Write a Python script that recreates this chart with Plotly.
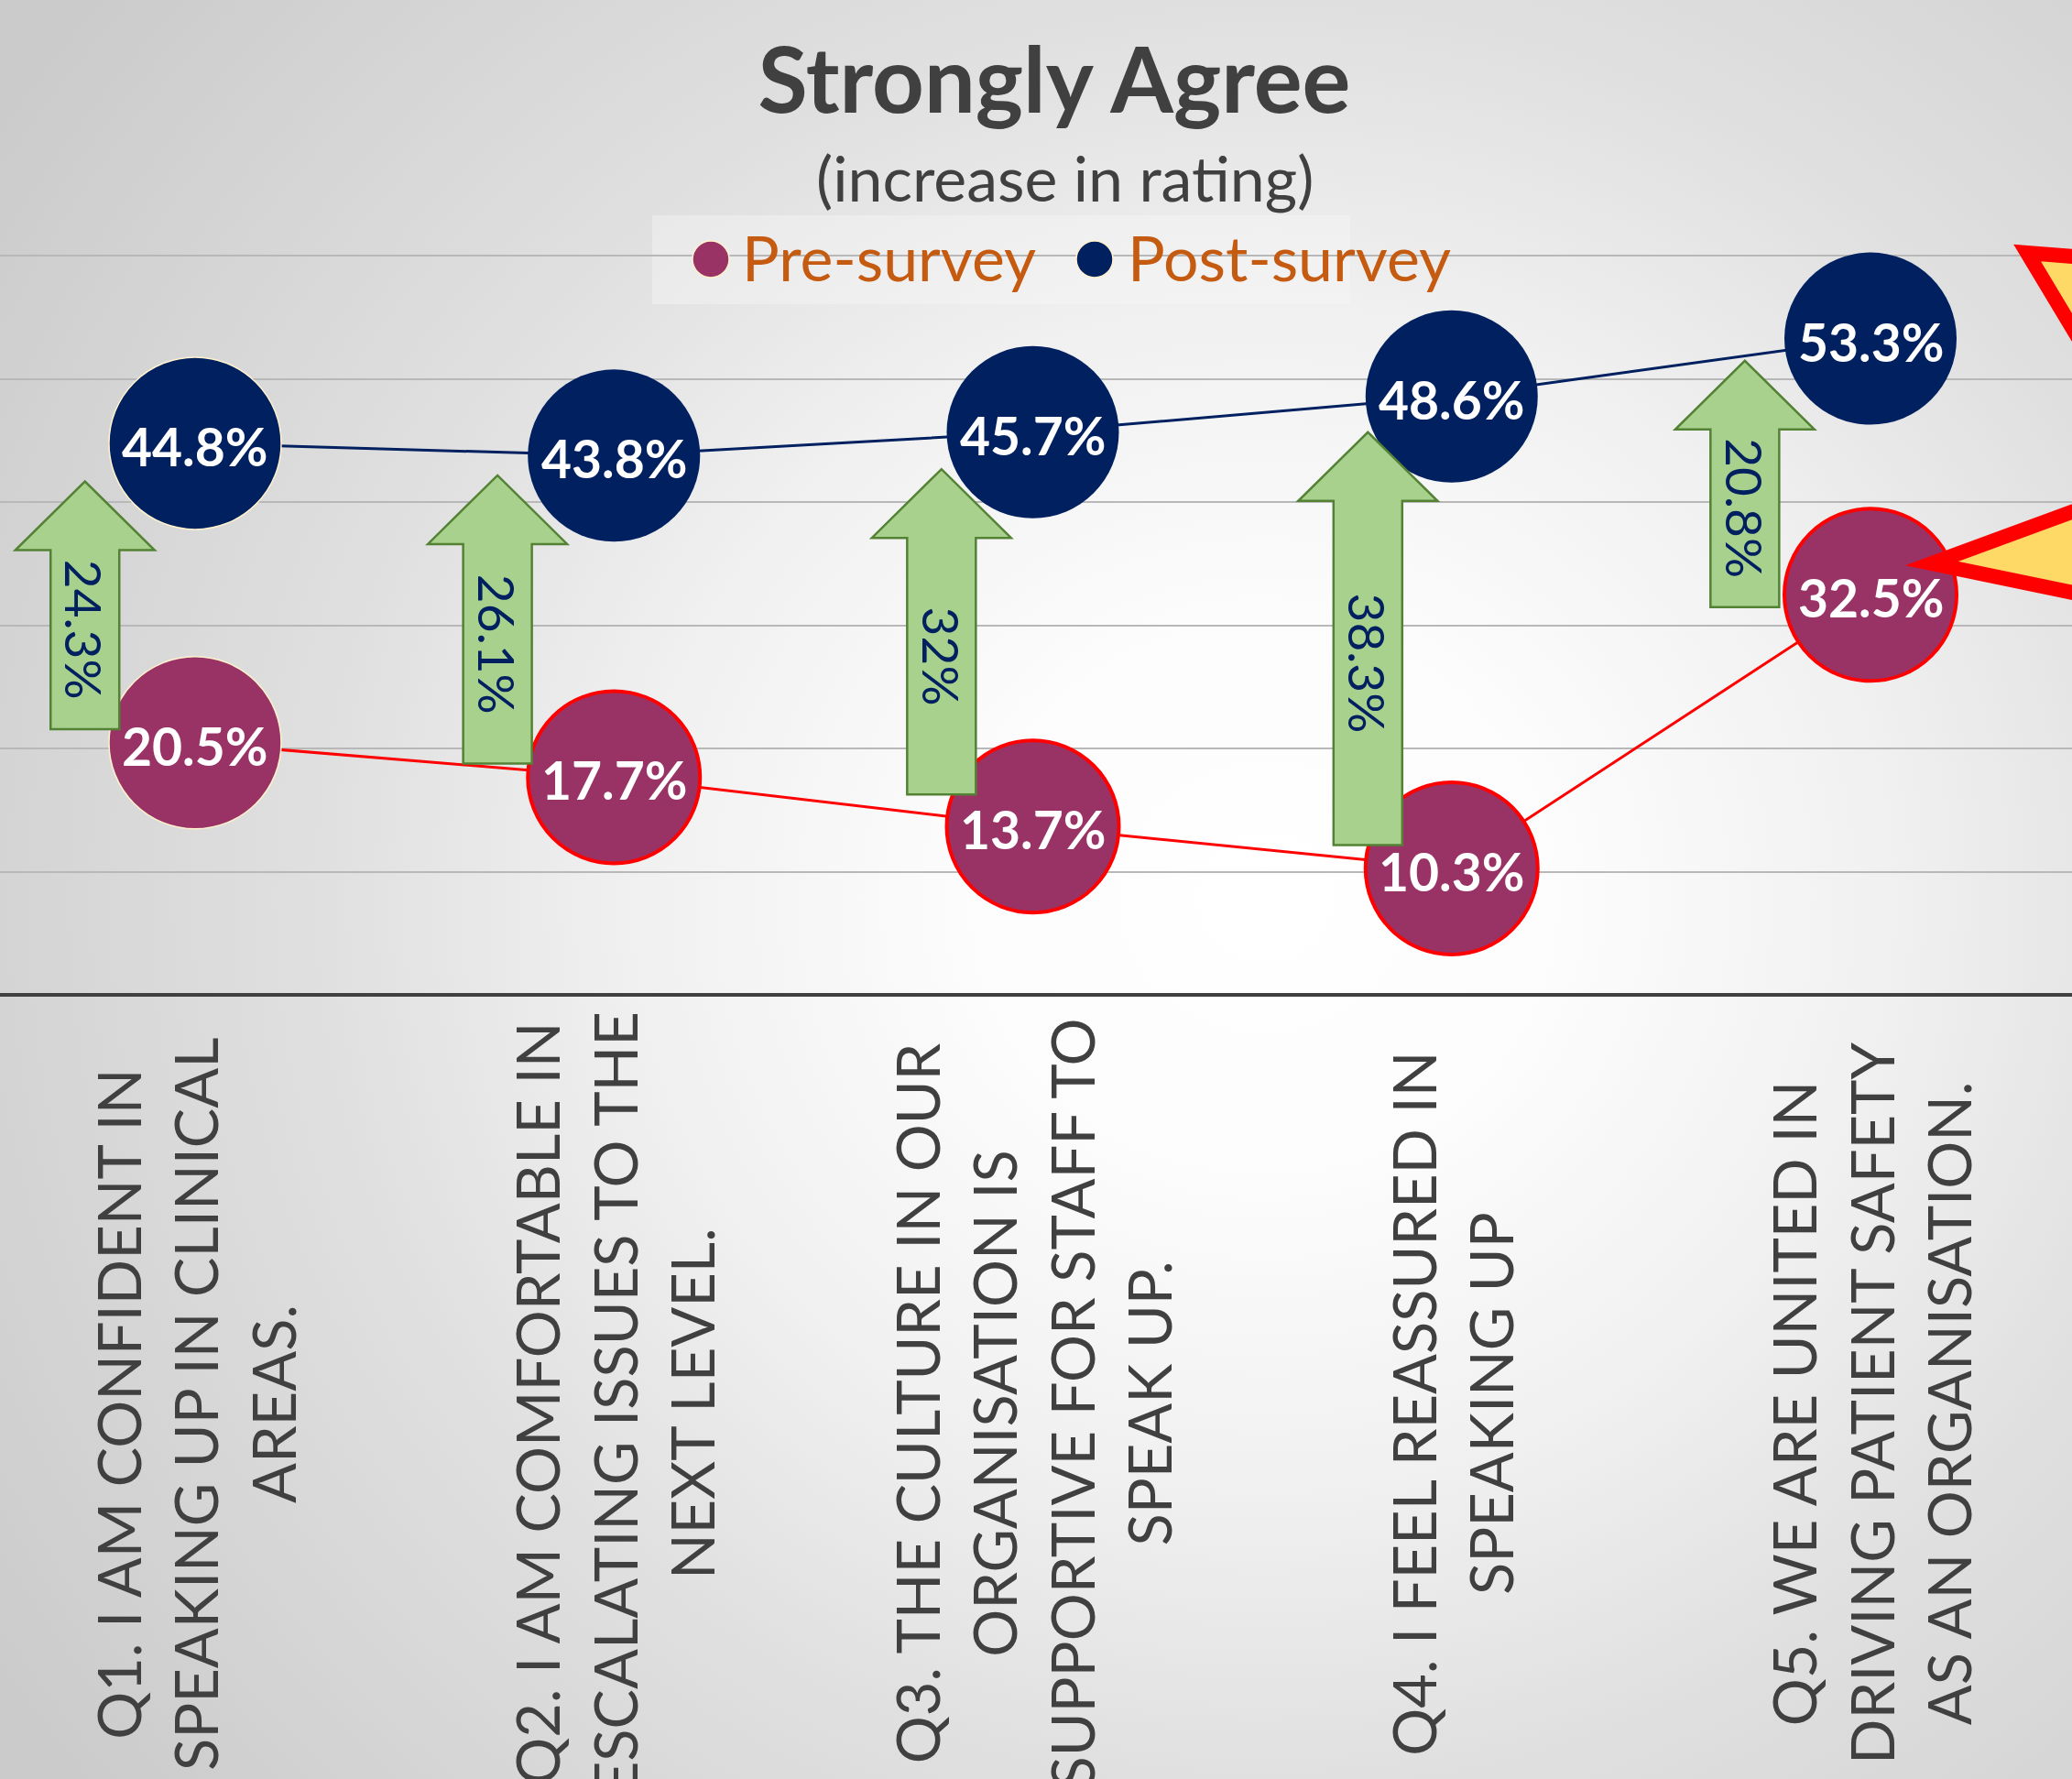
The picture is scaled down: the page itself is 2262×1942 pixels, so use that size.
import base64
import plotly.graph_objects as go

# ---------------- data ----------------
categories = [
    "Q1. I AM CONFIDENT IN<br>SPEAKING UP IN CLINICAL<br>AREAS.",
    "Q2. I AM COMFORTABLE IN<br>ESCALATING ISSUES TO THE<br>NEXT LEVEL.",
    "Q3. THE CULTURE IN OUR<br>ORGANISATION IS<br>SUPPORTIVE FOR STAFF TO<br>SPEAK UP.",
    "Q4. I FEEL REASSURED IN<br>SPEAKING UP",
    "Q5. WE ARE UNITED IN<br>DRIVING PATIENT SAFETY<br>AS AN ORGANISATION.",
]
pre_survey = [20.5, 17.7, 13.7, 10.3, 32.5]
post_survey = [44.8, 43.8, 45.7, 48.6, 53.3]
series_names = ["Pre-survey", "Post-survey"]
title_text = "Strongly Agree"
subtitle_text = "(increase in rating)"
grid_values = [10, 20, 30, 40, 50, 60]

# ---------------- styling / layout constants ----------------
W, H = 2262, 1942
X_RANGE = [-0.4658, 4.4811]
Y_RANGE = [-63.61, 80.78]
PX_PER_X = W / (X_RANGE[1] - X_RANGE[0])
PX_PER_Y = H / (Y_RANGE[1] - Y_RANGE[0])

PRE_COLOR = "#993366"
POST_COLOR = "#002060"
CREAM = "#FFF2CC"
TEXT_GREY = "#404040"
LEGEND_ORANGE = "#C55A11"
ARROW_FILL = "#A9D18E"
ARROW_LINE = "#548235"

# manual placement of the block arrows (relative to each category / value)
ARROW_DX = [-0.263, -0.278, -0.218, -0.2, -0.30]
ARROW_GAP_BOTTOM = [1.1, 1.1, 2.6, 1.9, -1.0]
ARROW_GAP_TOP = [3.1, 1.6, 3.0, 2.9, 1.8]
ARROW_HEAD_PX = 75
ARROW_HEAD_HALF_PX = 76
ARROW_SHAFT_HALF_PX = 37.5

LABEL_CENTER_PX = 1532  # vertical centre of the rotated category labels


def px(x):
    return x / W


def py(y):
    return 1 - y / H


x_pos = list(range(len(categories)))

# ---------------- background gradient (svg) ----------------
svg = (
    f'<svg xmlns="http://www.w3.org/2000/svg" width="{W}" height="{H}" viewBox="0 0 {W} {H}">'
    '<defs><radialGradient id="g" cx="0" cy="0" r="1" gradientUnits="userSpaceOnUse" '
    'gradientTransform="translate(1380 980) scale(1650 1550)">'
    '<stop offset="0" stop-color="#ffffff"/>'
    '<stop offset="0.2" stop-color="#fcfcfc"/>'
    '<stop offset="0.42" stop-color="#f0f0f0"/>'
    '<stop offset="0.62" stop-color="#e0e0e0"/>'
    '<stop offset="1" stop-color="#cbcbcb"/>'
    '</radialGradient></defs>'
    f'<rect x="0" y="0" width="{W}" height="{H}" fill="url(#g)"/></svg>'
)
bg_src = "data:image/svg+xml;base64," + base64.b64encode(svg.encode()).decode()

fig = go.Figure()

# Pre-survey series
fig.add_trace(go.Scatter(
    x=x_pos, y=pre_survey, name=series_names[0],
    mode="lines+markers",
    line=dict(color="#FF0000", width=3),
    marker=dict(size=188, color=PRE_COLOR,
                line=dict(color=[CREAM] + ["#FF0000"] * 4, width=[1.5] + [4] * 4)),
    showlegend=False, cliponaxis=False, hoverinfo="skip",
))

# Post-survey series
fig.add_trace(go.Scatter(
    x=x_pos, y=post_survey, name=series_names[1],
    mode="lines+markers",
    line=dict(color=POST_COLOR, width=3),
    marker=dict(size=188, color=POST_COLOR,
                line=dict(color=[CREAM] + [POST_COLOR] * 4, width=[1.5] + [0] * 4)),
    showlegend=False, cliponaxis=False, hoverinfo="skip",
))

shapes = []
annotations = []

# data labels centred in the circles
for series in (pre_survey, post_survey):
    for i, v in enumerate(series):
        annotations.append(dict(
            x=x_pos[i], y=v, xref="x", yref="y", text=f"{v:.1f}%",
            showarrow=False, xanchor="center", yanchor="middle", yshift=-3,
            font=dict(family="Lato", size=57, color="white", weight="bold"),
        ))

# lighter legend box
shapes.append(dict(type="rect", xref="paper", yref="paper",
                   x0=px(712), x1=px(1474), y0=py(332), y1=py(235),
                   fillcolor="rgba(248,248,248,0.4)", line=dict(width=0),
                   layer="between"))

# block arrows with increase labels
head_h = ARROW_HEAD_PX / PX_PER_Y
head_w = ARROW_HEAD_HALF_PX / PX_PER_X
shaft_w = ARROW_SHAFT_HALF_PX / PX_PER_X
for i, (a, b) in enumerate(zip(pre_survey, post_survey)):
    xc = x_pos[i] + ARROW_DX[i]
    bottom = a + ARROW_GAP_BOTTOM[i]
    top = b - ARROW_GAP_TOP[i]
    base = top - head_h
    path = (f"M {xc - shaft_w} {bottom} L {xc - shaft_w} {base} L {xc - head_w} {base} "
            f"L {xc} {top} L {xc + head_w} {base} L {xc + shaft_w} {base} "
            f"L {xc + shaft_w} {bottom} Z")
    shapes.append(dict(type="path", xref="x", yref="y", path=path,
                       fillcolor=ARROW_FILL, line=dict(color=ARROW_LINE, width=2.5),
                       layer="above"))
    diff = round(b - a, 1)
    annotations.append(dict(
        x=xc, y=(bottom + base) / 2 + 0.8, xref="x", yref="y",
        text=f"{diff:g}%", textangle=90, showarrow=False,
        xanchor="center", yanchor="middle",
        font=dict(family="Lato", size=55, color=POST_COLOR),
    ))

# category labels (rotated, centred)
label_y = Y_RANGE[1] - LABEL_CENTER_PX / PX_PER_Y
for i, cat in enumerate(categories):
    annotations.append(dict(
        x=x_pos[i], y=label_y, xref="x", yref="y",
        text=cat, textangle=-90, showarrow=False, align="center",
        xanchor="center", yanchor="middle",
        font=dict(family="Lato", size=65, color=TEXT_GREY),
    ))

# subtitle
annotations.append(dict(
    x=px(1162), y=py(194), xref="paper", yref="paper",
    text=subtitle_text, showarrow=False, xanchor="center", yanchor="middle",
    font=dict(family="Lato", size=68, color=TEXT_GREY),
))

# legend (markers + labels)
for name, color, cx, tx in [(series_names[0], PRE_COLOR, 776, 808),
                            (series_names[1], POST_COLOR, 1195, 1229)]:
    shapes.append(dict(type="circle", xref="paper", yref="paper",
                       x0=px(cx - 20), x1=px(cx + 20), y0=py(303), y1=py(263),
                       fillcolor=color, line=dict(color=CREAM, width=1.5),
                       layer="above"))
    annotations.append(dict(
        x=px(tx), y=py(281), xref="paper", yref="paper",
        text=name, showarrow=False, xanchor="left", yanchor="middle",
        font=dict(family="Lato", size=68, color=LEGEND_ORANGE),
    ))

# decorative explosion callout at right edge (mostly off canvas)
spike_top = (f"M {px(2213)} {py(276)} L {px(2340)} {py(286)} "
             f"L {px(2340)} {py(487)} Z")
spike_low = (f"M {px(2109)} {py(615)} L {px(2340)} {py(530)} "
             f"L {px(2340)} {py(663)} Z")
for p in (spike_top, spike_low):
    shapes.append(dict(type="path", xref="paper", yref="paper", path=p,
                       fillcolor="#FFD966", line=dict(color="#FF0000", width=16),
                       layer="above"))

fig.update_layout(
    width=W, height=H, autosize=False,
    margin=dict(l=0, r=0, t=0, b=0, pad=0),
    paper_bgcolor="#dcdcdc",
    plot_bgcolor="rgba(0,0,0,0)",
    showlegend=False,
    title=dict(text=title_text, x=px(1151), xanchor="center",
               y=py(88), yanchor="middle", yref="container",
               font=dict(family="Lato", size=99, color=TEXT_GREY, weight="bold")),
    xaxis=dict(range=X_RANGE, showgrid=False, zeroline=False,
               showticklabels=False, showline=False, fixedrange=True),
    yaxis=dict(range=Y_RANGE, tickvals=grid_values, showticklabels=False,
               showgrid=True, gridcolor="#B8B8B8", gridwidth=2,
               zeroline=True, zerolinecolor=TEXT_GREY, zerolinewidth=4,
               showline=False, fixedrange=True),
    images=[dict(source=bg_src, xref="paper", yref="paper", x=0, y=1,
                 sizex=1, sizey=1, xanchor="left", yanchor="top",
                 sizing="stretch", layer="below")],
    shapes=shapes,
    annotations=annotations,
)

fig.write_html(
    "out.html",
    config={"displayModeBar": False},
    post_script="document.body.style.margin='0';document.body.style.padding='0';"
                "document.body.style.overflow='hidden';",
)
